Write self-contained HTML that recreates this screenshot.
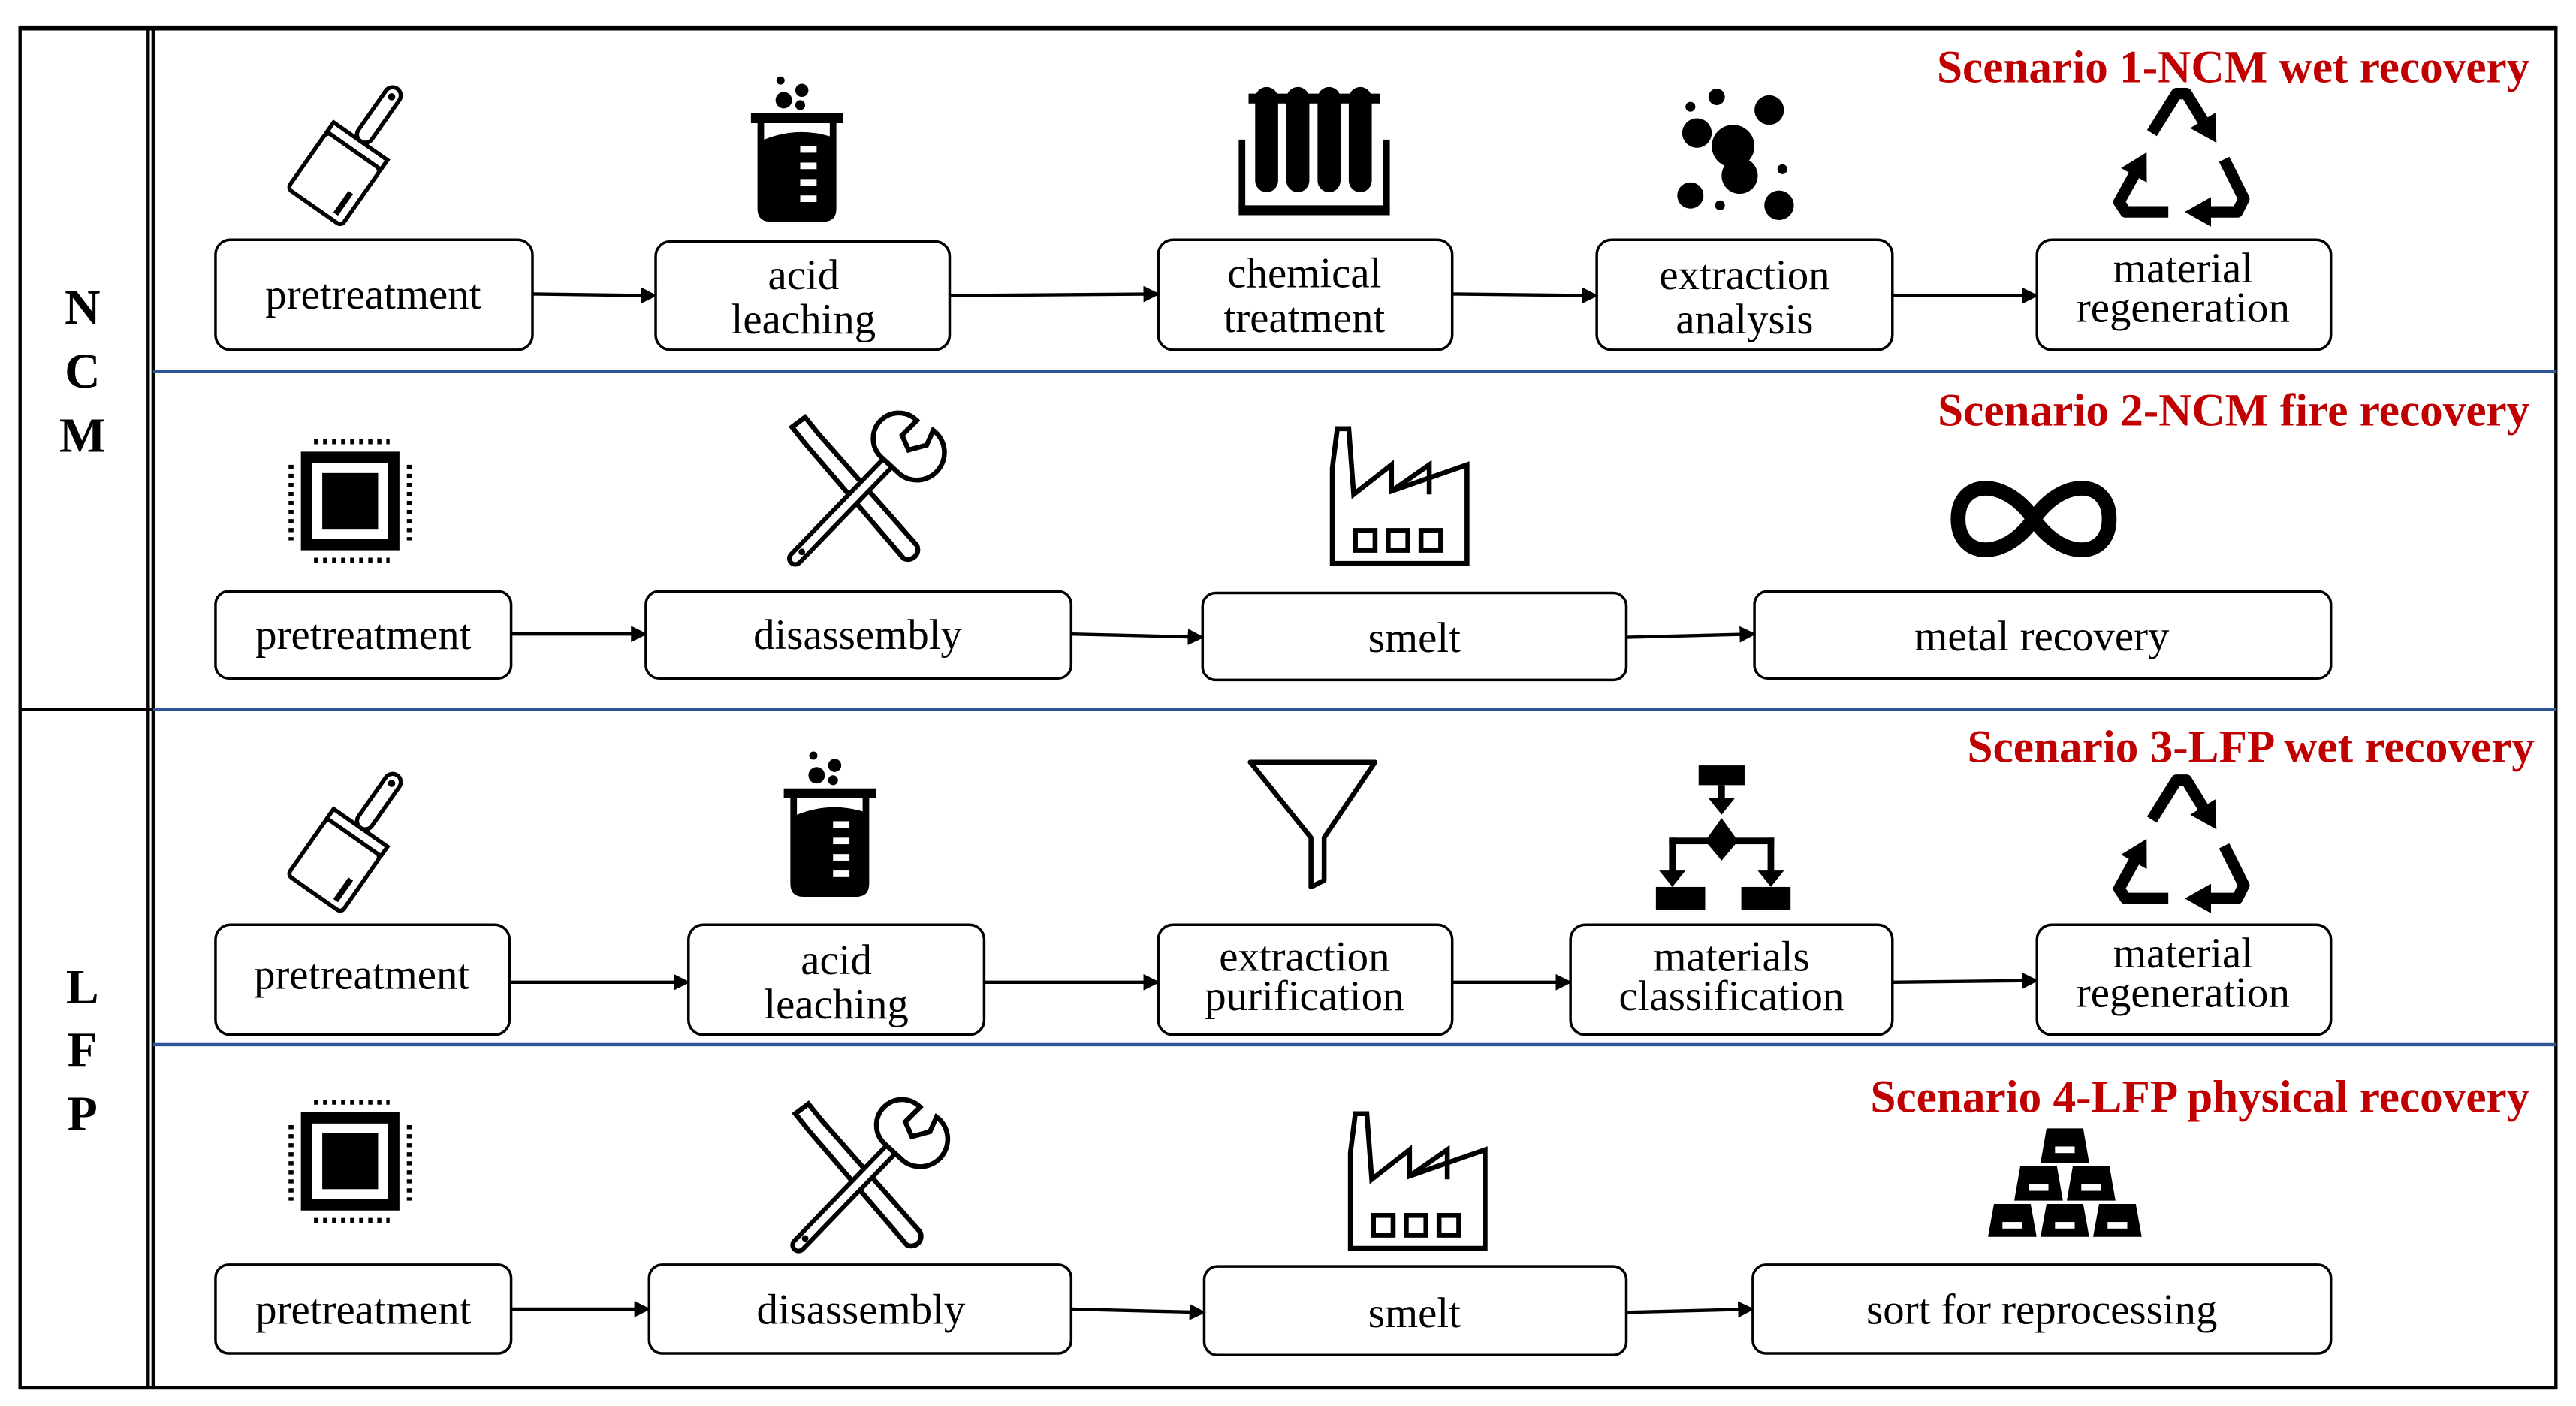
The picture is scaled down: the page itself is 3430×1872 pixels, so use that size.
<!DOCTYPE html>
<html><head><meta charset="utf-8"><style>
html,body{margin:0;padding:0;background:#fff;}
svg{display:block;}
.bx{fill:#fff;stroke:#000;stroke-width:1.6;}
.t{font-family:"Liberation Serif","Noto Serif CJK SC","DejaVu Serif",serif;font-weight:normal;font-size:26px;text-anchor:middle;fill:#000;}
.r{font-family:"Liberation Serif","Noto Serif CJK SC",serif;font-size:28px;font-weight:bold;fill:#c00000;text-anchor:end;}
.l{font-family:"Liberation Serif","Noto Serif CJK SC",serif;font-size:30px;font-weight:bold;text-anchor:middle;}
.ar{stroke:#000;stroke-width:2;fill:none;marker-end:url(#ah);}
.rc{stroke:#000;stroke-width:7;fill:none;stroke-linejoin:round;marker-end:url(#rh);}
</style></head><body>
<svg width="3430" height="1872" viewBox="0 0 1568 856" xmlns="http://www.w3.org/2000/svg">
<defs>
<marker id="ah" markerWidth="10" markerHeight="10" refX="9" refY="5" orient="auto" markerUnits="userSpaceOnUse"><path d="M0,0 L10,5 L0,10 z" fill="#000"/></marker>
<marker id="rh" markerWidth="16" markerHeight="18" refX="2" refY="9" orient="auto" markerUnits="userSpaceOnUse"><path d="M0,0 L16,9 L0,18 z" fill="#000"/></marker>
<g id="brush"><g transform="rotate(35)"><rect x="-20" y="-4" width="40" height="42" rx="3" fill="#fff" stroke="#000" stroke-width="2.5"/><rect x="-20" y="-11" width="40" height="7" fill="#fff" stroke="#000" stroke-width="2.5"/><rect x="-5" y="-50" width="10" height="39" rx="5" fill="#fff" stroke="#000" stroke-width="2.5"/><circle cx="0" cy="-44" r="2.2" fill="#000"/><line x1="13" y1="18" x2="13" y2="34" stroke="#000" stroke-width="3.5"/></g></g>
<g id="beaker"><rect x="-28" y="-28" width="56" height="6" fill="#000"/><path d="M-24,-22 H24 V30 Q24,38 16,38 H-16 Q-24,38 -24,30 Z" fill="#000"/><path d="M-20,-22 H20 V-14 Q0,-20 -20,-12 Z" fill="#fff"/><g fill="#fff"><rect x="2" y="-8" width="10" height="4"/><rect x="2" y="2" width="10" height="4"/><rect x="2" y="12" width="10" height="4"/><rect x="2" y="22" width="10" height="4"/></g><circle cx="-8" cy="-36" r="5" fill="#000"/><circle cx="3" cy="-42" r="4" fill="#000"/><circle cx="2" cy="-33" r="3" fill="#000"/><circle cx="-10" cy="-48" r="2.5" fill="#000"/></g>
<g id="chip"><rect x="-30" y="-30" width="60" height="60" fill="#000"/><rect x="-23" y="-23" width="46" height="46" fill="#fff"/><rect x="-17" y="-17" width="34" height="34" fill="#000"/><g stroke="#000" stroke-width="3" stroke-dasharray="2.5 3"><line x1="-22" y1="-36" x2="24" y2="-36"/><line x1="-22" y1="36" x2="24" y2="36"/><line x1="-36" y1="-22" x2="-36" y2="24"/><line x1="36" y1="-22" x2="36" y2="24"/></g></g>
<g id="tools" fill="none" stroke="#000"><path d="M-40,-42 L-32,-48 L-24,-38 L36,30 A6,6 0 0 1 28,38 L-32,-32 Z" stroke-width="3" fill="#fff"/><path d="M-38,38 L20,-22" stroke-width="10" stroke-linecap="round"/><path d="M-38,38 L20,-22" stroke-width="4.5" stroke="#fff" stroke-linecap="round"/><path d="M14,-24 A15,15 0 0 1 36,-46 L27,-37 L31,-28 L42,-31 L46,-40 A15,15 0 0 1 26,-13 Z" stroke-width="3" fill="#fff"/><circle cx="-34" cy="34" r="2" fill="#000" stroke="none"/></g>
<g id="factory" fill="#fff" stroke="#000" stroke-width="3"><path d="M-40,40 V-18 L-37,-42 H-30 L-27,-2 L-4,-20 V-4 L42,-20 V40 Z"/><path d="M-4,-4 L19,-20 V-2" fill="none"/><rect x="-26" y="20" width="12" height="12"/><rect x="-6" y="20" width="12" height="12"/><rect x="14" y="20" width="12" height="12"/></g>
<g id="recycle"><path class="rc" d="M-18,-14 L-3,-38 L3,-38 L14,-20"/><path class="rc" d="M-8,34 L-34,34 L-38,28 L-28,10"/><path class="rc" d="M26,2 L38,26 L34,34 L16,34"/></g>
<g id="bars" fill="#000" stroke="#fff" stroke-width="2"><path d="M-48,34 L-44,12 H-20 L-16,34 Z"/><path d="M-16,34 L-12,12 H12 L16,34 Z"/><path d="M16,34 L20,12 H44 L48,34 Z"/><path d="M-32,12 L-28,-11 H-4 L0,12 Z"/><path d="M0,12 L4,-11 H28 L32,12 Z"/><path d="M-16,-11 L-12,-34 H12 L16,-11 Z"/><g fill="#fff" stroke="none"><rect x="-38" y="24" width="12" height="4"/><rect x="-6" y="24" width="12" height="4"/><rect x="26" y="24" width="12" height="4"/><rect x="-22" y="1" width="12" height="4"/><rect x="10" y="1" width="12" height="4"/><rect x="-6" y="-22" width="12" height="4"/></g></g>
</defs>

<rect x="12" y="17" width="78" height="828" fill="none" stroke="#000" stroke-width="2"/>
<rect x="93" y="17" width="1463" height="828" fill="none" stroke="#000" stroke-width="2"/>
<line x1="12" y1="17" x2="1556" y2="17" stroke="#000" stroke-width="3"/>
<line x1="93" y1="226" x2="1556" y2="226" stroke="#2f5597" stroke-width="2"/>
<line x1="93" y1="432" x2="1556" y2="432" stroke="#2f5597" stroke-width="2"/>
<line x1="12" y1="432" x2="93" y2="432" stroke="#000" stroke-width="2"/>
<line x1="93" y1="636" x2="1556" y2="636" stroke="#2f5597" stroke-width="2"/>
<line x1="12" y1="845" x2="1556" y2="845" stroke="#000" stroke-width="2"/>

<text class="l" x="50" y="197">N</text><text class="l" x="50" y="236">C</text><text class="l" x="50" y="275">M</text>
<text class="l" x="50" y="611">L</text><text class="l" x="50" y="649">F</text><text class="l" x="50" y="688">P</text>

<!-- Row 1 -->
<text class="r" x="1540" y="50">Scenario 1-NCM wet recovery</text>
<use href="#brush" x="213" y="95"/>
<use href="#beaker" x="485" y="97"/>
<g transform="translate(800,95)"><rect x="-46" y="30" width="92" height="6" fill="#000"/><rect x="-40" y="-38" width="80" height="6" fill="#000"/><g fill="#000"><rect x="-36" y="-42" width="14" height="64" rx="7"/><rect x="-17" y="-42" width="14" height="64" rx="7"/><rect x="2" y="-42" width="14" height="64" rx="7"/><rect x="21" y="-42" width="14" height="64" rx="7"/></g><rect x="-46" y="-10" width="4" height="42" fill="#000"/><rect x="42" y="-10" width="4" height="42" fill="#000"/></g>
<g transform="translate(1055,95)" fill="#000"><circle cx="0" cy="-6" r="13"/><circle cx="-22" cy="-14" r="9"/><circle cx="22" cy="-28" r="9"/><circle cx="-26" cy="24" r="8"/><circle cx="28" cy="30" r="9"/><circle cx="-10" cy="-36" r="5"/><circle cx="-26" cy="-30" r="3"/><circle cx="30" cy="8" r="3"/><circle cx="-8" cy="30" r="3"/><circle cx="4" cy="12" r="11"/></g>
<use href="#recycle" x="1328" y="95"/>
<rect class="bx" x="131" y="146" width="193" height="67" rx="9"/><text class="t" x="227" y="188">pretreatment</text>
<rect class="bx" x="399" y="147" width="179" height="66" rx="9"/><text class="t" x="489" y="176">acid</text><text class="t" x="489" y="203">leaching</text>
<rect class="bx" x="705" y="146" width="179" height="67" rx="9"/><text class="t" x="794" y="175">chemical</text><text class="t" x="794" y="202">treatment</text>
<rect class="bx" x="972" y="146" width="180" height="67" rx="9"/><text class="t" x="1062" y="176">extraction</text><text class="t" x="1062" y="203">analysis</text>
<rect class="bx" x="1240" y="146" width="179" height="67" rx="9"/><text class="t" x="1329" y="172">material</text><text class="t" x="1329" y="196">regeneration</text>
<line class="ar" x1="324" y1="179" x2="399" y2="180"/>
<line class="ar" x1="578" y1="180" x2="705" y2="179"/>
<line class="ar" x1="884" y1="179" x2="972" y2="180"/>
<line class="ar" x1="1152" y1="180" x2="1240" y2="180"/>

<!-- Row 2 -->
<text class="r" x="1540" y="259">Scenario 2-NCM fire recovery</text>
<use href="#chip" x="213" y="305"/>
<use href="#tools" x="522" y="302"/>
<use href="#factory" x="851" y="303"/>
<path d="M1238,316 C1220,290 1192,292 1192,316 C1192,340 1220,342 1238,316 C1256,290 1284,292 1284,316 C1284,340 1256,342 1238,316 Z" fill="none" stroke="#000" stroke-width="9"/>
<rect class="bx" x="131" y="360" width="180" height="53" rx="8"/><text class="t" x="221" y="395">pretreatment</text>
<rect class="bx" x="393" y="360" width="259" height="53" rx="8"/><text class="t" x="522" y="395">disassembly</text>
<rect class="bx" x="732" y="361" width="258" height="53" rx="8"/><text class="t" x="861" y="397">smelt</text>
<rect class="bx" x="1068" y="360" width="351" height="53" rx="8"/><text class="t" x="1243" y="396">metal recovery</text>
<line class="ar" x1="311" y1="386" x2="393" y2="386"/>
<line class="ar" x1="652" y1="386" x2="732" y2="388"/>
<line class="ar" x1="990" y1="388" x2="1068" y2="386"/>

<!-- Row 3 -->
<text class="r" x="1543" y="464">Scenario 3-LFP wet recovery</text>
<use href="#brush" x="213" y="513"/>
<use href="#beaker" x="505" y="508"/>
<path d="M761,464 H837 L806,510 V536 L798,540 V510 Z" fill="#fff" stroke="#000" stroke-width="3" stroke-linejoin="round"/>
<g transform="translate(1048,510)" fill="#000"><rect x="-14" y="-44" width="28" height="12"/><rect x="-2" y="-32" width="4" height="12"/><path d="M-8,-24 L0,-14 L8,-24 Z"/><path d="M0,-12 L10,2 L0,14 L-10,2 Z"/><rect x="-32" y="0" width="64" height="4"/><rect x="-32" y="0" width="4" height="24"/><rect x="28" y="0" width="4" height="24"/><path d="M-38,20 L-30,30 L-22,20Z"/><path d="M22,20 L30,30 L38,20Z"/><rect x="-40" y="30" width="30" height="14"/><rect x="12" y="30" width="30" height="14"/></g>
<use href="#recycle" x="1328" y="513"/>
<rect class="bx" x="131" y="563" width="179" height="67" rx="9"/><text class="t" x="220" y="602">pretreatment</text>
<rect class="bx" x="419" y="563" width="180" height="67" rx="9"/><text class="t" x="509" y="593">acid</text><text class="t" x="509" y="620">leaching</text>
<rect class="bx" x="705" y="563" width="179" height="67" rx="9"/><text class="t" x="794" y="591">extraction</text><text class="t" x="794" y="615">purification</text>
<rect class="bx" x="956" y="563" width="196" height="67" rx="9"/><text class="t" x="1054" y="591">materials</text><text class="t" x="1054" y="615">classification</text>
<rect class="bx" x="1240" y="563" width="179" height="67" rx="9"/><text class="t" x="1329" y="589">material</text><text class="t" x="1329" y="613">regeneration</text>
<line class="ar" x1="310" y1="598" x2="419" y2="598"/>
<line class="ar" x1="599" y1="598" x2="705" y2="598"/>
<line class="ar" x1="884" y1="598" x2="956" y2="598"/>
<line class="ar" x1="1152" y1="598" x2="1240" y2="597"/>

<!-- Row 4 -->
<text class="r" x="1540" y="677">Scenario 4-LFP physical recovery</text>
<use href="#chip" x="213" y="707"/>
<use href="#tools" x="524" y="720"/>
<use href="#factory" x="862" y="720"/>
<use href="#bars" x="1257" y="720"/>
<rect class="bx" x="131" y="770" width="180" height="54" rx="8"/><text class="t" x="221" y="806">pretreatment</text>
<rect class="bx" x="395" y="770" width="257" height="54" rx="8"/><text class="t" x="524" y="806">disassembly</text>
<rect class="bx" x="733" y="771" width="257" height="54" rx="8"/><text class="t" x="861" y="808">smelt</text>
<rect class="bx" x="1067" y="770" width="352" height="54" rx="8"/><text class="t" x="1243" y="806">sort for reprocessing</text>
<line class="ar" x1="311" y1="797" x2="395" y2="797"/>
<line class="ar" x1="652" y1="797" x2="733" y2="799"/>
<line class="ar" x1="990" y1="799" x2="1067" y2="797"/>
</svg>
</body></html>
